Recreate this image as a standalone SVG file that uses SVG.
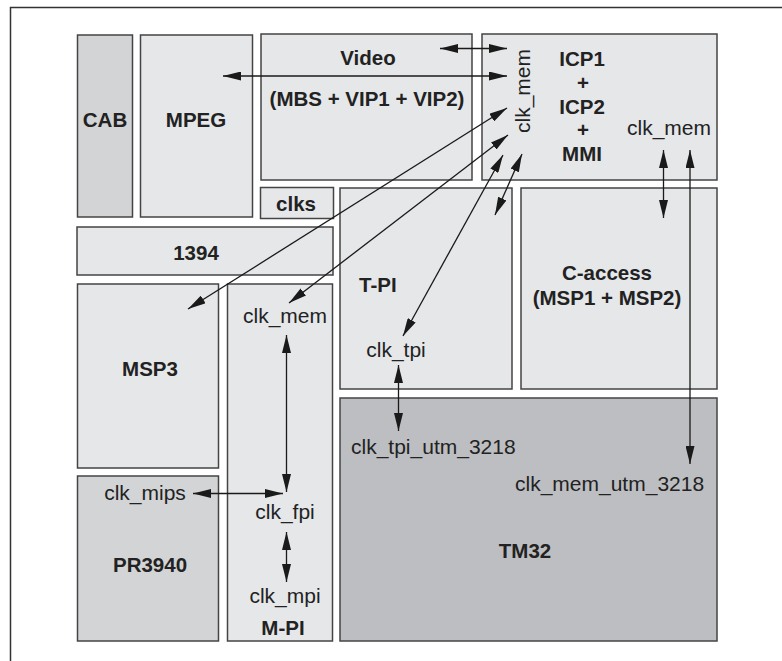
<svg xmlns="http://www.w3.org/2000/svg" width="782" height="661" viewBox="0 0 782 661">
<defs>
<marker id="ah" viewBox="0 0 18 9" refX="18" refY="4.5" markerWidth="18" markerHeight="9" markerUnits="userSpaceOnUse" orient="auto-start-reverse">
<path d="M0,0 L18,4.5 L0,9 Z" fill="#1a1a1a"/>
</marker>
<style>
.box{stroke:#444;stroke-width:1.5}
.lt{fill:#e6e7e9}
.md{fill:#d3d4d6}
.dk{fill:#bdbec1}
.b{font-family:"Liberation Sans",Arial,sans-serif;font-weight:bold;font-size:20.5px;fill:#222}
.r{font-family:"Liberation Sans",Arial,sans-serif;font-size:21px;fill:#222}
.c{text-anchor:middle}
.ar{stroke:#1a1a1a;stroke-width:1.3;fill:none;marker-start:url(#ah);marker-end:url(#ah)}
</style>
</defs>
<rect x="10.5" y="7.5" width="790" height="670" fill="#fff" stroke="#333" stroke-width="1.5"/>
<g id="cab"><rect class="box md" x="77.5" y="35" width="55" height="182"/><text class="b c" x="105" y="127">CAB</text></g>
<g id="mpeg"><rect class="box lt" x="140.5" y="35" width="112" height="182"/><text class="b c" x="196" y="127">MPEG</text></g>
<g id="video"><rect class="box lt" x="261" y="34" width="211" height="146"/><text class="b c" x="368" y="65">Video</text><text class="b c" x="367" y="106">(MBS + VIP1 + VIP2)</text></g>
<g id="icp"><rect class="box lt" x="482" y="34" width="235" height="146"/>
<text class="r c" transform="translate(530,91) rotate(-90)">clk_mem</text>
<text class="b c" x="582" y="66">ICP1</text><text class="b c" x="583" y="90">+</text><text class="b c" x="582" y="114">ICP2</text><text class="b c" x="583" y="137">+</text><text class="b c" x="582" y="161">MMI</text>
<text class="r c" x="669" y="135">clk_mem</text></g>
<g id="clks"><rect class="box lt" x="260.5" y="187.5" width="73" height="31"/><text class="b c" x="296" y="211">clks</text></g>
<g id="n1394"><rect class="box lt" x="77" y="227" width="256" height="48"/><text class="b c" x="196" y="260">1394</text></g>
<g id="tpi"><rect class="box lt" x="340" y="188" width="172" height="201"/><text class="b" x="359" y="292">T-PI</text><text class="r c" x="396" y="357">clk_tpi</text></g>
<g id="caccess"><rect class="box lt" x="521" y="188" width="196" height="201"/><text class="b c" x="607" y="280">C-access</text><text class="b c" x="607" y="305">(MSP1 + MSP2)</text></g>
<g id="msp3"><rect class="box lt" x="77.5" y="284" width="141" height="184"/><text class="b c" x="150" y="376">MSP3</text></g>
<g id="mpi"><rect class="box lt" x="227.5" y="284" width="105" height="357"/><text class="r c" x="285" y="323">clk_mem</text><text class="r c" x="285" y="519">clk_fpi</text><text class="r c" x="285" y="603">clk_mpi</text><text class="b c" x="283" y="635">M-PI</text></g>
<g id="pr3940"><rect class="box md" x="77.5" y="476" width="141" height="165"/><text class="r c" x="145" y="500">clk_mips</text><text class="b c" x="150" y="572">PR3940</text></g>
<g id="tm32"><rect class="box dk" x="340" y="398" width="377" height="243"/><text class="r" x="351" y="454">clk_tpi_utm_3218</text><text class="r" x="515" y="491">clk_mem_utm_3218</text><text class="b c" x="525" y="558">TM32</text></g>
<g id="connectors">
<line class="ar" x1="440" y1="48.5" x2="507" y2="48.5"/>
<line class="ar" x1="223" y1="76" x2="507" y2="76"/>
<line class="ar" x1="188" y1="309" x2="507" y2="108"/>
<line class="ar" x1="289" y1="303" x2="508" y2="135"/>
<line class="ar" x1="403" y1="336" x2="503" y2="155"/>
<line class="ar" x1="495" y1="215" x2="522" y2="154"/>
<line class="ar" x1="663.5" y1="150" x2="663.5" y2="218"/>
<line class="ar" x1="690" y1="150" x2="690" y2="464"/>
<line class="ar" x1="398.5" y1="365" x2="398.5" y2="431"/>
<line class="ar" x1="286.5" y1="335" x2="286.5" y2="492"/>
<line class="ar" x1="193" y1="493.5" x2="283" y2="493.5"/>
<line class="ar" x1="286.5" y1="532" x2="286.5" y2="582"/>
</g>
</svg>
